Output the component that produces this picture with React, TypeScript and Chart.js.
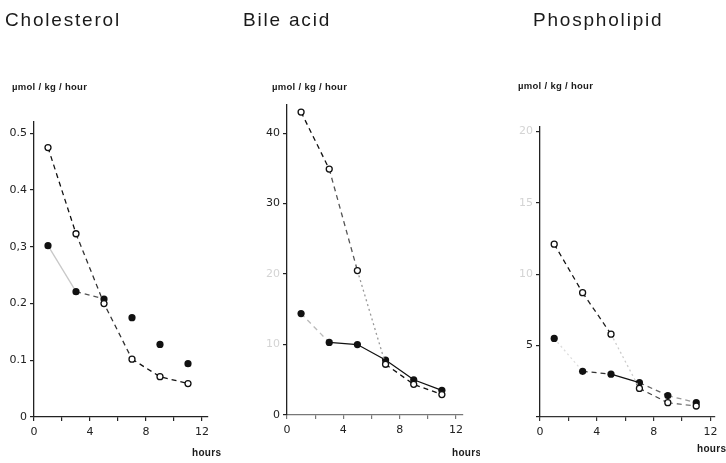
import React, { useEffect, useRef } from "react";
import { Chart, registerables } from "chart.js";

Chart.register(...registerables);

// ---------- data ----------
const hours = [1, 3, 5, 7, 9, 11];
const titles = ["Cholesterol", "Bile acid", "Phospholipid"];
const unitLabel = "µmol / kg / hour";
const xAxisLabel = "hours";

const cholOpen = [0.475, 0.323, 0.2, 0.102, 0.071, 0.059];
const cholFilled = [0.302, 0.221, 0.208, 0.175, 0.128, 0.094];
const bileOpen = [43.0, 34.9, 20.5, 7.2, 4.35, 2.9];
const bileFilled = [14.4, 10.3, 10.0, 7.8, 5.0, 3.5];
const phosOpen = [12.1, 8.7, 5.8, 2.0, 1.0, 0.77];
const phosFilled = [5.5, 3.2, 3.0, 2.4, 1.5, 1.0];

const xTickMarks = [0, 2, 4, 6, 8, 10, 12];
const xTickLabels = [0, 4, 8, 12];
const cholTicks = [0, 0.1, 0.2, 0.3, 0.4, 0.5];
const cholLabels = ["0", "0.1", "0.2", "0,3", "0.4", "0.5"];
const bileTicks = [0, 10, 20, 30, 40];
const bileLabels = ["0", "10", "20", "30", "40"];
const phosTicks = [0, 5, 10, 15, 20];
const phosLabels = ["", "5", "10", "15", "20"];

// ---------- styles ----------
const SOLID: number[] = [];
const DASH = [5, 4];
const DOT = [2, 3];
type Seg = { c: string; d: number[] };
const S = (c: string, d: number[]): Seg => ({ c, d });

const panels = [
  {
    left: 0, width: 240, padL: 4, yW: 30, top: 122, bottom: 417, right: 207.6,
    xMax: 12.4, yMax: 0.52,
    title: titles[0], titleX: 5, titleY: 21, unitX: 12, unitY: 87, hoursX: 192, hoursY: 453,
    open: cholOpen, filled: cholFilled, yTicks: cholTicks, yLabels: cholLabels, faint: [] as number[],
    xAxisColor: "#222",
    openSeg: [S("#111", DASH), S("#333", DASH), S("#333", DASH), S("#111", DASH), S("#111", DASH)],
    filledSeg: [S("#c8c8c8", SOLID), S("#555", DASH), S("rgba(0,0,0,0)", SOLID), S("rgba(0,0,0,0)", SOLID), S("rgba(0,0,0,0)", SOLID)],
  },
  {
    left: 240, width: 240, padL: 17, yW: 30, top: 105, bottom: 415, right: 223,
    xMax: 12.5, yMax: 44,
    title: titles[1], titleX: 3, titleY: 21, unitX: 32, unitY: 87, hoursX: 212, hoursY: 453,
    open: bileOpen, filled: bileFilled, yTicks: bileTicks, yLabels: bileLabels, faint: [10, 20],
    xAxisColor: "#777",
    openSeg: [S("#111", DASH), S("#555", DASH), S("#999", DOT), S("#111", DASH), S("#111", DASH)],
    filledSeg: [S("#bbb", DASH), S("#111", SOLID), S("#111", SOLID), S("#111", SOLID), S("#111", SOLID)],
  },
  {
    left: 480, width: 246, padL: 30, yW: 30, top: 127, bottom: 417, right: 234.7,
    xMax: 12.3, yMax: 20.3,
    title: titles[2], titleX: 53, titleY: 21, unitX: 38, unitY: 86, hoursX: 217, hoursY: 449,
    open: phosOpen, filled: phosFilled, yTicks: phosTicks, yLabels: phosLabels, faint: [10, 15, 20],
    xAxisColor: "#333",
    openSeg: [S("#111", DASH), S("#222", DASH), S("#ccc", DOT), S("#444", DASH), S("#777", DASH)],
    filledSeg: [S("#ddd", DOT), S("#333", DASH), S("#111", SOLID), S("#666", DASH), S("#999", DASH)],
  },
];

const textPlugin = {
  id: "panelText",
  afterDraw(chart: any, _args: any, opts: any) {
    const ctx = chart.ctx as CanvasRenderingContext2D;
    ctx.save();
    ctx.fillStyle = "#1a1a1a";
    ctx.textAlign = "left";
    ctx.textBaseline = "middle";
    ctx.font = '19px "Liberation Sans"';
    (ctx as any).letterSpacing = "1.8px";
    ctx.fillText(opts.title, opts.titleX, opts.titleY);
    ctx.font = 'bold 9.5px "Liberation Sans"';
    (ctx as any).letterSpacing = "0.3px";
    ctx.fillText(opts.unit, opts.unitX, opts.unitY);
    ctx.font = 'bold 10px "Liberation Sans"';
    ctx.fillText(opts.hours, opts.hoursX, opts.hoursY);
    ctx.restore();
  },
};

function Panel({ p }: { p: (typeof panels)[number] }) {
  const ref = useRef<HTMLCanvasElement | null>(null);
  useEffect(() => {
    if (!ref.current) return;
    const axisColor = "#222";
    const tickFont = { family: '"DejaVu Sans"', size: 11 };
    const chart = new Chart(ref.current, {
      type: "line",
      data: {
        datasets: [
          {
            data: hours.map((h, i) => ({ x: h, y: p.open[i] })),
            borderColor: "#111",
            borderWidth: 1.3,
            borderDash: DASH,
            pointRadius: 3,
            pointBackgroundColor: "#fff",
            pointBorderColor: "#111",
            pointBorderWidth: 1.3,
            segment: {
              borderColor: (c: any) => p.openSeg[c.p0DataIndex].c,
              borderDash: (c: any) => p.openSeg[c.p0DataIndex].d,
            },
          },
          {
            data: hours.map((h, i) => ({ x: h, y: p.filled[i] })),
            borderColor: "#111",
            borderWidth: 1.3,
            pointRadius: 3.6,
            pointBackgroundColor: "#111",
            pointBorderColor: "#111",
            pointBorderWidth: 0,
            segment: {
              borderColor: (c: any) => p.filledSeg[c.p0DataIndex].c,
              borderDash: (c: any) => p.filledSeg[c.p0DataIndex].d,
            },
          },
        ],
      },
      options: {
        responsive: false,
        animation: false,
        events: [],
        layout: {
          padding: {
            left: p.padL,
            right: p.width - p.right,
            top: p.top,
            bottom: 463 - p.bottom - 30,
          },
        },
        plugins: {
          legend: { display: false },
          tooltip: { enabled: false },
          title: { display: false },
          panelText: {
            title: p.title, titleX: p.titleX, titleY: p.titleY,
            unit: unitLabel, unitX: p.unitX, unitY: p.unitY,
            hours: xAxisLabel, hoursX: p.hoursX, hoursY: p.hoursY,
          },
        } as any,
        scales: {
          x: {
            type: "linear",
            min: 0,
            max: p.xMax,
            afterBuildTicks: (s: any) => {
              s.ticks = xTickMarks.map((v) => ({ value: v }));
            },
            afterFit: (s: any) => {
              s.height = 30;
            },
            ticks: {
              autoSkip: false,
              maxRotation: 0,
              padding: 5,
              color: "#222",
              font: tickFont,
              callback: (v: any) => (xTickLabels.includes(Number(v)) ? String(v) : ""),
            },
            grid: { display: true, drawOnChartArea: false, tickLength: 4, color: p.xAxisColor, lineWidth: 1.2 },
            border: { display: true, color: p.xAxisColor, width: 1.3 },
          },
          y: {
            type: "linear",
            min: 0,
            max: p.yMax,
            afterBuildTicks: (s: any) => {
              s.ticks = p.yTicks.map((v) => ({ value: v }));
            },
            afterFit: (s: any) => {
              s.width = p.yW;
            },
            ticks: {
              autoSkip: false,
              padding: 3,
              font: tickFont,
              color: (c: any) => (p.faint.includes(c.tick?.value) ? "#d4d4d4" : "#222"),
              callback: (_v: any, i: number) => p.yLabels[i],
            },
            grid: { display: true, drawOnChartArea: false, tickLength: 4, color: axisColor, lineWidth: 1.2 },
            border: { display: true, color: axisColor, width: 1.3 },
          },
        },
      } as any,
      plugins: [textPlugin],
    });
    return () => chart.destroy();
  }, [p]);
  return (
    <canvas
      ref={ref}
      width={p.width}
      height={463}
      style={{ position: "absolute", left: p.left, top: 0, width: p.width, height: 463 }}
    />
  );
}

export default function App() {
  return (
    <div
      style={{
        position: "absolute",
        left: 0,
        top: 0,
        width: 726,
        height: 463,
        background: "#fff",
        overflow: "hidden",
      }}
    >
      {panels.map((p, i) => (
        <Panel key={i} p={p} />
      ))}
    </div>
  );
}
